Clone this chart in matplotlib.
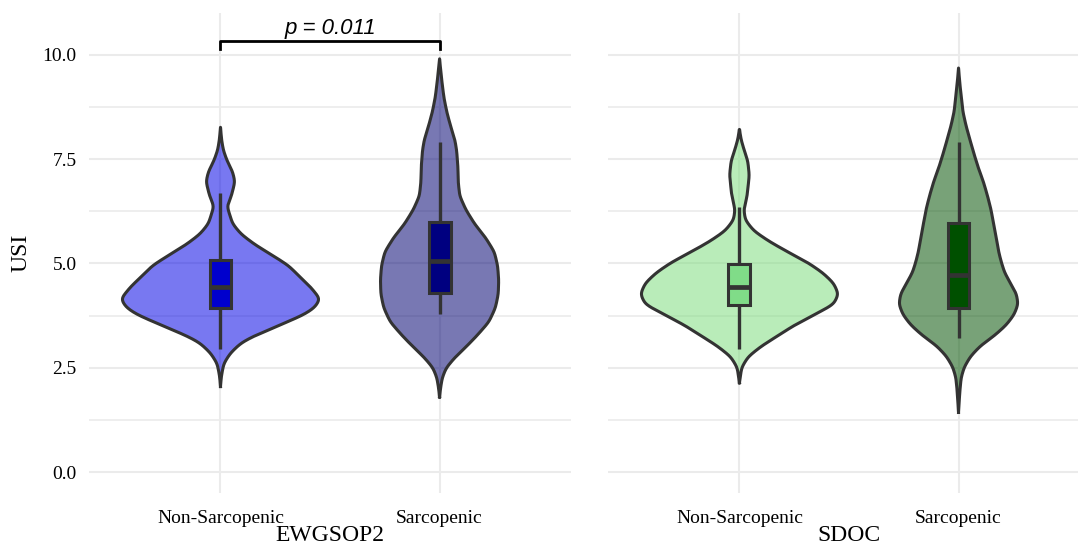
import numpy as np
import matplotlib
matplotlib.use("Agg")
from matplotlib import pyplot as plt

# categories / groups
categories = ["Non-Sarcopenic", "Sarcopenic"]
panels = ["EWGSOP2", "SDOC"]

# violin outline: (USI value, half width in category units)
ewg_non_y = [2.05, 2.3, 2.6, 2.85, 3.1, 3.27, 3.52, 3.77, 3.94, 4.15, 4.44, 4.69, 4.95, 5.2, 5.45, 5.7, 5.95, 6.2, 6.37, 6.62, 6.96, 7.2, 7.46, 7.71, 7.96, 8.26]
ewg_non_w = [0.0, 0.004, 0.015, 0.045, 0.095, 0.157, 0.27, 0.38, 0.43, 0.455, 0.41, 0.36, 0.31, 0.235, 0.157, 0.094, 0.055, 0.04, 0.03, 0.05, 0.066, 0.055, 0.03, 0.013, 0.005, 0.0]
ewg_sar_y = [1.80, 2.0, 2.26, 2.5, 2.75, 3.0, 3.27, 3.6, 3.94, 4.27, 4.61, 4.95, 5.28, 5.62, 5.95, 6.29, 6.62, 6.96, 7.29, 7.71, 7.96, 8.3, 8.63, 8.97, 9.3, 9.64, 9.9]
ewg_sar_w = [0.0, 0.004, 0.012, 0.03, 0.07, 0.12, 0.17, 0.225, 0.255, 0.268, 0.27, 0.265, 0.25, 0.21, 0.16, 0.12, 0.092, 0.085, 0.084, 0.078, 0.07, 0.05, 0.033, 0.02, 0.012, 0.005, 0.0]
sdoc_non_y = [2.14, 2.51, 2.77, 3.02, 3.27, 3.52, 3.77, 4.02, 4.27, 4.53, 4.78, 5.03, 5.28, 5.53, 5.78, 6.04, 6.29, 6.62, 7.12, 7.46, 7.71, 7.96, 8.21]
sdoc_non_w = [0.0, 0.01, 0.04, 0.1, 0.175, 0.25, 0.34, 0.43, 0.452, 0.43, 0.38, 0.31, 0.22, 0.136, 0.066, 0.027, 0.02, 0.035, 0.045, 0.038, 0.022, 0.008, 0.0]
sdoc_sar_y = [1.43, 1.93, 2.26, 2.51, 2.77, 3.02, 3.27, 3.52, 3.77, 4.02, 4.27, 4.53, 4.78, 5.03, 5.28, 5.62, 5.95, 6.29, 6.62, 6.96, 7.29, 7.63, 7.96, 8.3, 8.63, 8.97, 9.3, 9.68]
sdoc_sar_w = [0.0, 0.006, 0.012, 0.026, 0.055, 0.1, 0.165, 0.218, 0.254, 0.272, 0.264, 0.236, 0.21, 0.195, 0.183, 0.172, 0.16, 0.148, 0.132, 0.113, 0.09, 0.07, 0.052, 0.034, 0.02, 0.013, 0.006, 0.0]

# box stats: lower whisker, q1, median, q3, upper whisker
ewg_non_box = [2.96, 3.94, 4.44, 5.07, 6.68]
ewg_sar_box = [3.79, 4.29, 5.05, 6.00, 7.92]
sdoc_non_box = [2.96, 4.00, 4.44, 4.99, 6.35]
sdoc_sar_box = [3.21, 3.92, 4.71, 5.97, 7.92]

violin_colors = [["#0000E6", "#000070"], ["#7CDC7C", "#005000"]]
box_colors = [["#0000CD", "#000080"], ["#80DC88", "#005000"]]

p_label = "p = 0.011"

violins = [[(ewg_non_y, ewg_non_w), (ewg_sar_y, ewg_sar_w)],
           [(sdoc_non_y, sdoc_non_w), (sdoc_sar_y, sdoc_sar_w)]]
boxes = [[ewg_non_box, ewg_sar_box], [sdoc_non_box, sdoc_sar_box]]

serif = ["Liberation Serif", "DejaVu Serif"]
edge = "#333333"


def smooth(y, w, sigma=0.07):
	# soften the corners of the hand-read outline (drawing only)
	fy = np.linspace(y[0], y[-1], 600)
	fw = np.interp(fy, y, w)
	step = fy[1] - fy[0]
	k = np.arange(-4 * sigma, 4 * sigma + step, step)
	ker = np.exp(-0.5 * (k / sigma) ** 2)
	ker /= ker.sum()
	pad = len(k) // 2
	padded = np.concatenate([np.zeros(pad), fw, np.zeros(pad)])
	sw = np.convolve(padded, ker, mode="same")[pad:pad + len(fw)]
	sw[0] = 0
	sw[-1] = 0
	return fy, sw


fig = plt.figure(figsize=(10.78, 5.48), dpi=100)
ax_left = fig.add_axes([0.0826, 0.1004, 0.4471, 0.876])
ax_right = fig.add_axes([0.5640, 0.1004, 0.4471, 0.876])

for k, ax in enumerate([ax_left, ax_right]):
	ax.set_xlim(0.4, 2.6)
	ax.set_ylim(-0.5, 11.0)
	for s in ax.spines.values():
		s.set_visible(False)
	ax.set_yticks(np.arange(0, 10.1, 2.5))
	ax.set_yticks(np.arange(1.25, 10, 2.5), minor=True)
	ax.set_xticks([1, 2])
	ax.set_xticklabels(categories, fontsize=14, family=serif)
	ax.tick_params(axis="x", length=0, pad=12)
	ax.tick_params(axis="y", length=0, pad=9)
	ax.tick_params(which="minor", length=0)
	ax.grid(True, which="major", color="#EBEBEB", lw=1.5, zorder=0)
	ax.grid(True, which="minor", axis="y", color="#EBEBEB", lw=1.2, zorder=0)
	ax.set_axisbelow(True)
	ax.set_xlabel(panels[k], fontsize=17, family=serif, labelpad=-1)
	if k == 0:
		ax.set_yticklabels(["%.1f" % v for v in np.arange(0, 10.1, 2.5)], fontsize=14, family=serif)
		ax.set_ylabel("USI", fontsize=17, family=serif, labelpad=8)
	else:
		ax.set_yticklabels([])

	for i in range(2):
		x0 = i + 1
		yy, ww = smooth(*violins[k][i])
		ax.fill_betweenx(yy, x0 - ww, x0 + ww, color=violin_colors[k][i], alpha=0.53, lw=0, zorder=2)
		ax.plot(np.concatenate([x0 - ww, (x0 + ww)[::-1]]), np.concatenate([yy, yy[::-1]]),
				color=edge, lw=2.2, zorder=3, solid_joinstyle="round")
		lo, q1, med, q3, hi = boxes[k][i]
		bw = 0.05
		ax.plot([x0, x0], [lo, q1], color=edge, lw=2.4, zorder=4, solid_capstyle="butt")
		ax.plot([x0, x0], [q3, hi], color=edge, lw=2.4, zorder=4, solid_capstyle="butt")
		ax.add_patch(plt.Rectangle((x0 - bw, q1), 2 * bw, q3 - q1, facecolor=box_colors[k][i],
								   edgecolor=edge, lw=2.2, zorder=5))
		ax.plot([x0 - bw, x0 + bw], [med, med], color=edge, lw=3.4, zorder=6, solid_capstyle="butt")

# significance bracket
ax_left.plot([1, 1, 2, 2], [10.14, 10.33, 10.33, 10.14], color="black", lw=2.0, zorder=6, clip_on=False)
ax_left.text(1.5, 10.37, p_label, ha="center", va="bottom", fontsize=16, style="italic",
			 family=["Liberation Sans", "DejaVu Sans"])

fig.savefig("out.png", dpi=100)
